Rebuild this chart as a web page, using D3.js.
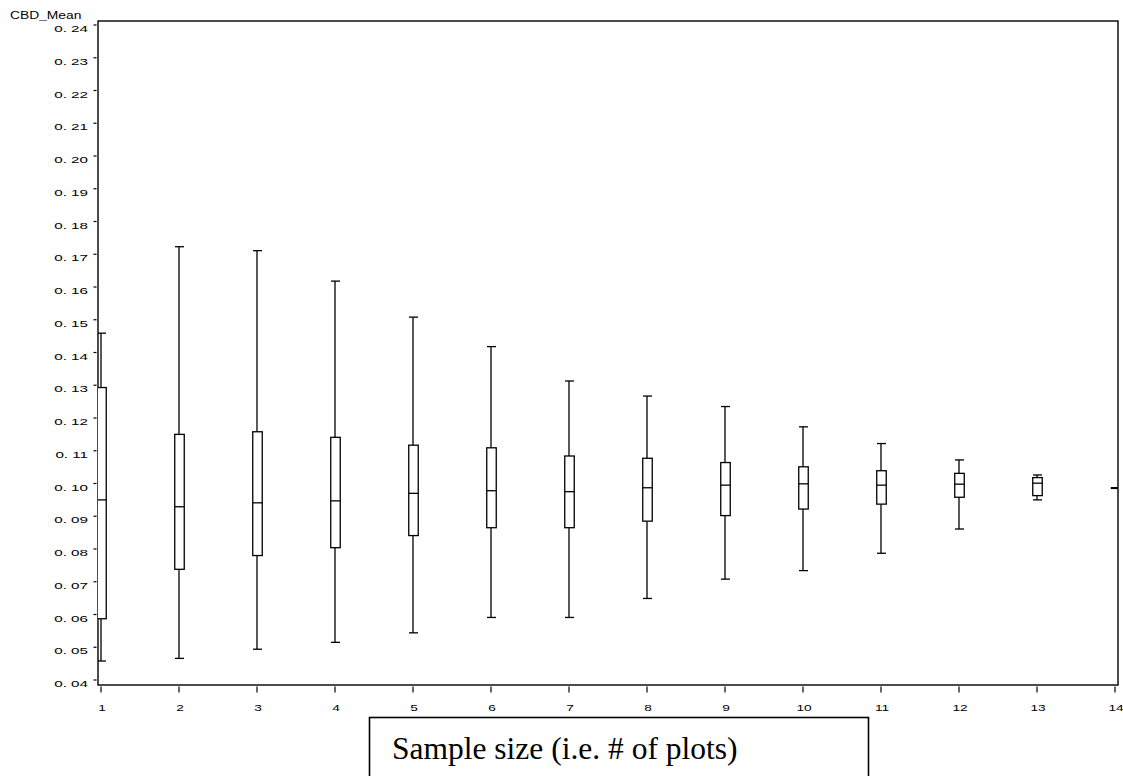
<!DOCTYPE html>
<html><head><meta charset="utf-8">
<script src="https://cdn.jsdelivr.net/npm/d3@7/dist/d3.min.js"></script>
<style>body{margin:0;background:#fff}svg{display:block}</style>
</head><body>
<svg id="chart" width="1123" height="776"></svg>
<script>
// ---- data ----
const sampleSizes = [1,2,3,4,5,6,7,8,9,10,11,12,13,14];
const whiskerLow  = [0.0458,0.0466,0.0494,0.0515,0.0544,0.0591,0.0591,0.0649,0.0708,0.0734,0.0787,0.0861,0.0950,0.0986];
const quartile1   = [0.0587,0.0738,0.0780,0.0804,0.0841,0.0865,0.0865,0.0885,0.0902,0.0922,0.0937,0.0958,0.0963,0.0986];
const medians     = [0.0950,0.0929,0.0941,0.0947,0.0970,0.0978,0.0975,0.0987,0.0995,0.0999,0.0995,0.0998,0.1001,0.0986];
const quartile3   = [0.1293,0.1150,0.1158,0.1141,0.1117,0.1109,0.1084,0.1077,0.1064,0.1051,0.1039,0.1031,0.1018,0.0986];
const whiskerHigh = [0.1459,0.1723,0.1711,0.1618,0.1508,0.1418,0.1313,0.1267,0.1235,0.1173,0.1122,0.1072,0.1026,0.0986];
const yTicks = [0.04,0.05,0.06,0.07,0.08,0.09,0.10,0.11,0.12,0.13,0.14,0.15,0.16,0.17,0.18,0.19,0.20,0.21,0.22,0.23,0.24];
const xTicks = sampleSizes;
const yTitle = "CBD_Mean";
const xTitle = "Sample size (i.e. # of plots)";

// ---- layout ----
const svg = d3.select("#chart");
const frame = {left: 98, right: 1118, top: 21, bottom: 685};

const x = d3.scaleLinear().domain([1, 14]).range([101, 1115]);
const y = d3.scaleLinear().domain([0.04, 0.24]).range([680, 25]);

const boxes = sampleSizes.map((s, i) => ({
  s, lo: whiskerLow[i], q1: quartile1[i], med: medians[i], q3: quartile3[i], hi: whiskerHigh[i]
}));

const boxW = 9.5, capW = 9;

svg.append("defs").append("clipPath").attr("id", "plotclip")
  .append("rect")
  .attr("x", frame.left).attr("y", frame.top)
  .attr("width", frame.right - frame.left).attr("height", frame.bottom - frame.top);

// frame
svg.append("rect")
  .attr("x", frame.left).attr("y", frame.top)
  .attr("width", frame.right - frame.left).attr("height", frame.bottom - frame.top)
  .attr("fill", "none").attr("stroke", "#000").attr("stroke-width", 1.4);

// y axis ticks + labels
const yAxis = svg.append("g");
yTicks.forEach(v => {
  const yy = y(v);
  yAxis.append("line")
    .attr("x1", frame.left - 4.5).attr("x2", frame.left - 1.5)
    .attr("y1", yy).attr("y2", yy)
    .attr("stroke", "#000").attr("stroke-width", 1.2);
  yAxis.append("text")
    .attr("transform", `translate(88,${yy + 7}) scale(1.55,1)`)
    .attr("text-anchor", "end")
    .attr("font-family", "Liberation Sans, Arial, sans-serif")
    .attr("font-size", 9.8)
    .attr("fill", "#000")
    .text("0. " + d3.format("02d")(Math.round(v * 100)));
});

// y title
svg.append("text")
  .attr("transform", "translate(10,19) scale(1.38,1)")
  .attr("font-family", "Liberation Sans, Arial, sans-serif")
  .attr("font-size", 10)
  .attr("fill", "#000")
  .text(yTitle);

// x axis ticks + labels
const xAxis = svg.append("g");
xTicks.forEach(t => {
  const xx = x(t);
  xAxis.append("line")
    .attr("x1", xx).attr("x2", xx)
    .attr("y1", frame.bottom + 1.5).attr("y2", frame.bottom + 7.5)
    .attr("stroke", "#000").attr("stroke-width", 1.2);
  xAxis.append("text")
    .attr("transform", `translate(${xx + 1},711) scale(1.4,1)`)
    .attr("text-anchor", "middle")
    .attr("font-family", "Liberation Sans, Arial, sans-serif")
    .attr("font-size", 9.8)
    .attr("fill", "#000")
    .text(t);
});

// boxes
const g = svg.append("g").attr("clip-path", "url(#plotclip)")
  .attr("stroke", "#000").attr("stroke-width", 1.3).attr("fill", "none");

boxes.forEach(b => {
  const cx = x(b.s);
  const bx = cx - boxW / 2 + 0.5;
  g.append("line").attr("x1", cx).attr("x2", cx).attr("y1", y(b.hi)).attr("y2", y(b.q3));
  g.append("line").attr("x1", cx).attr("x2", cx).attr("y1", y(b.q1)).attr("y2", y(b.lo));
  g.append("line").attr("x1", cx - capW / 2 + 0.5).attr("x2", cx + capW / 2 + 0.5)
    .attr("y1", y(b.hi)).attr("y2", y(b.hi));
  g.append("line").attr("x1", cx - capW / 2 + 0.5).attr("x2", cx + capW / 2 + 0.5)
    .attr("y1", y(b.lo)).attr("y2", y(b.lo));
  g.append("rect").attr("x", bx).attr("y", y(b.q3))
    .attr("width", boxW).attr("height", Math.max(0, y(b.q1) - y(b.q3)))
    .attr("fill", "#fff");
  g.append("line").attr("x1", bx).attr("x2", bx + boxW)
    .attr("y1", y(b.med)).attr("y2", y(b.med))
    .attr("stroke-width", b.q1 === b.q3 ? 2 : 1.3);
});

// x title box
svg.append("rect")
  .attr("x", 369.5).attr("y", 717.5)
  .attr("width", 499).attr("height", 80)
  .attr("fill", "#fff").attr("stroke", "#000").attr("stroke-width", 1.6);
svg.append("text")
  .attr("x", 392).attr("y", 759)
  .attr("font-family", "Liberation Serif, 'Times New Roman', serif")
  .attr("font-size", 31.5)
  .attr("fill", "#000")
  .text(xTitle);
</script>
</body></html>
